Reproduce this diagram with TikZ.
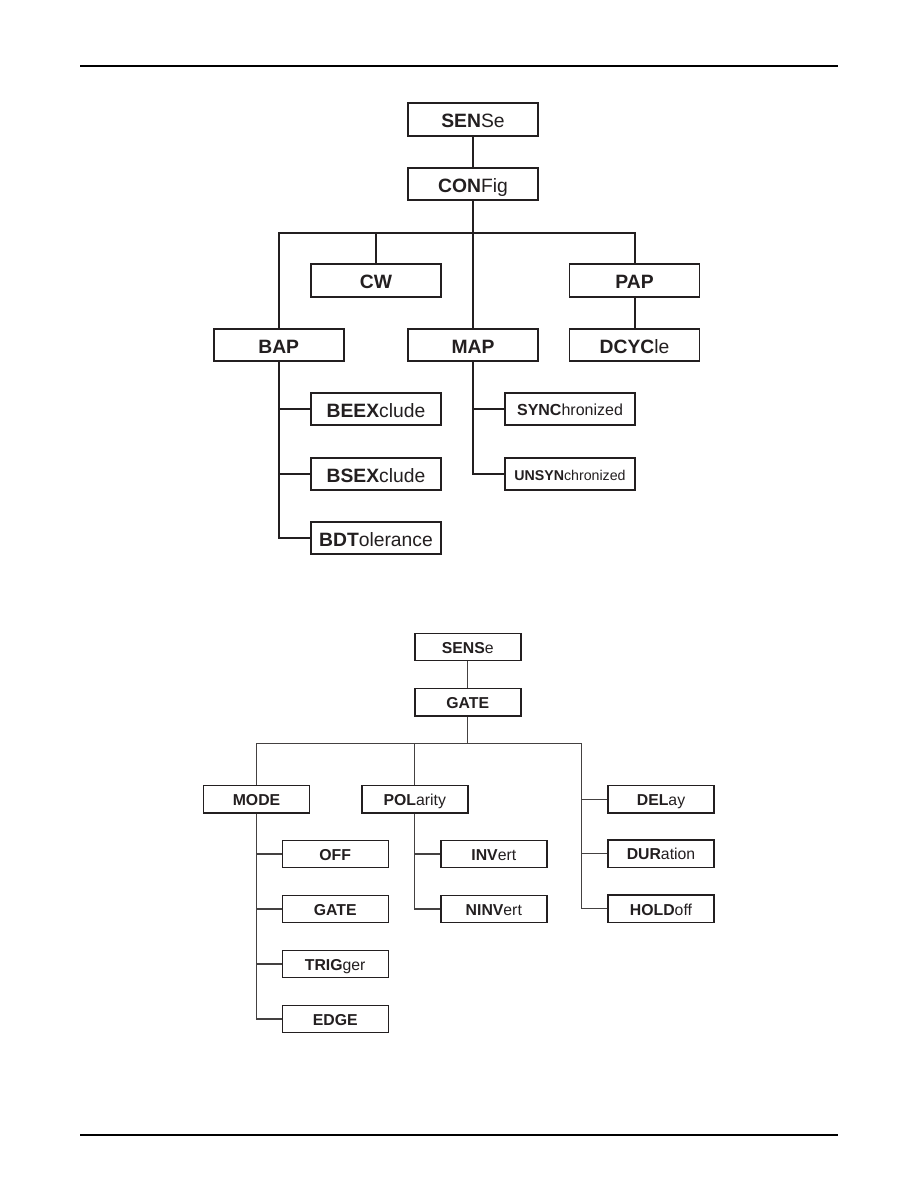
\documentclass[tikz,border=0pt]{standalone}
\usepackage{fontspec}
\setmainfont{Liberation Sans}
\definecolor{ink}{HTML}{231F20}
\begin{document}
\begin{tikzpicture}[x=1pt,y=-1pt,
  bigbox/.style={draw=ink,line width=1.6pt,rectangle,inner sep=0pt,minimum width=130pt,minimum height=32.5pt,text=ink,text height=16.2pt,text depth=0pt,font=\fontsize{19.3}{22}\selectfont},
  smallbox/.style={draw=ink,line width=1.4pt,rectangle,inner sep=0pt,minimum width=106pt,minimum height=27.5pt,text=ink,text height=12.3pt,text depth=0pt,font=\fontsize{15.8}{18}\selectfont},
  topline/.style={draw=ink,line width=2pt},
  botline/.style={draw=ink!85,line width=1.1pt},
  rule/.style={draw=black,line width=1.5pt}]
\useasboundingbox (0,0) rectangle (918,1188);
\fill[white] (0,0) rectangle (918,1188);
% page rules
\coordinate (rtl) at (80,66);
\coordinate (rtr) at (838,66);
\coordinate (rbl) at (80,1135);
\coordinate (rbr) at (838,1135);
\draw[rule] (rtl) -- (rtr);
\draw[rule] (rbl) -- (rbr);
% ---------- top tree ----------
\node[bigbox] (sense1) at (473,119.5) {\textbf{SEN}Se};
\node[bigbox] (config) at (473,184) {\textbf{CON}Fig};
\node[bigbox] (cw) at (376,280.5) {\textbf{CW}};
\node[bigbox] (pap) at (634.5,280.5) {\textbf{PAP}};
\node[bigbox] (bap) at (278.7,345) {\textbf{BAP}};
\node[bigbox] (map) at (473,345) {\textbf{MAP}};
\node[bigbox] (dcycle) at (634.5,345) {\textbf{DCYC}le};
\node[bigbox] (beex) at (376,409) {\textbf{BEEX}clude};
\node[bigbox] (bsex) at (376,474) {\textbf{BSEX}clude};
\node[bigbox] (bdt) at (376,538) {\textbf{BDT}olerance};
\node[bigbox,text height=13.5pt,font=\fontsize{16}{19}\selectfont] (sync) at (570,409) {\textbf{SYNC}hronized};
\node[bigbox,text height=12.2pt,font=\fontsize{14.2}{17}\selectfont] (unsync) at (570,474) {\textbf{UNSYN}chronized};
\coordinate (bus1) at (473,232.7);
\draw[topline] (sense1) -- (config);
\draw[topline] (config) -- (map);
\draw[topline] (bap.north) |- (bus1) -| (pap.north);
\draw[topline] (cw.north) -- (cw.north |- bus1);
\draw[topline] (pap) -- (dcycle);
\draw[topline] (bap.south) |- (bdt.west);
\draw[topline] (bap.south |- beex.west) -- (beex.west);
\draw[topline] (bap.south |- bsex.west) -- (bsex.west);
\draw[topline] (map.south) |- (unsync.west);
\draw[topline] (map.south |- sync.west) -- (sync.west);
% ---------- bottom tree ----------
\node[smallbox] (sense2) at (467.8,647) {\textbf{SENS}e};
\node[smallbox] (gate) at (467.8,702.2) {\textbf{GATE}};
\node[smallbox] (mode) at (256.5,799.2) {\textbf{MODE}};
\node[smallbox] (pol) at (414.8,799.2) {\textbf{POL}arity};
\node[smallbox] (delay) at (661,799.2) {\textbf{DEL}ay};
\node[smallbox] (duration) at (661,853.8) {\textbf{DUR}ation};
\node[smallbox] (holdoff) at (661,908.9) {\textbf{HOLD}off};
\node[smallbox] (off) at (335.2,854) {\textbf{OFF}};
\node[smallbox] (gate2) at (335.2,909) {\textbf{GATE}};
\node[smallbox] (trig) at (335.2,964) {\textbf{TRIG}ger};
\node[smallbox] (edge) at (335.2,1019) {\textbf{EDGE}};
\node[smallbox] (inv) at (493.8,854) {\textbf{INV}ert};
\node[smallbox] (ninv) at (493.8,909) {\textbf{NINV}ert};
\coordinate (bus2) at (467.8,743.6);
\coordinate (rtop) at (581.8,743.6);
\draw[botline] (sense2) -- (gate);
\draw[botline] (gate.south) -- (bus2);
\draw[botline] (mode.north) |- (rtop) -- (rtop |- holdoff.west) -- (holdoff.west);
\draw[botline] (pol.north) -- (pol.north |- bus2);
\draw[botline] (rtop |- delay.west) -- (delay.west);
\draw[botline] (rtop |- duration.west) -- (duration.west);
\draw[botline] (mode.south) |- (edge.west);
\draw[botline] (mode.south |- off.west) -- (off.west);
\draw[botline] (mode.south |- gate2.west) -- (gate2.west);
\draw[botline] (mode.south |- trig.west) -- (trig.west);
\draw[botline] (pol.south) |- (ninv.west);
\draw[botline] (pol.south |- inv.west) -- (inv.west);
\end{tikzpicture}
\end{document}
